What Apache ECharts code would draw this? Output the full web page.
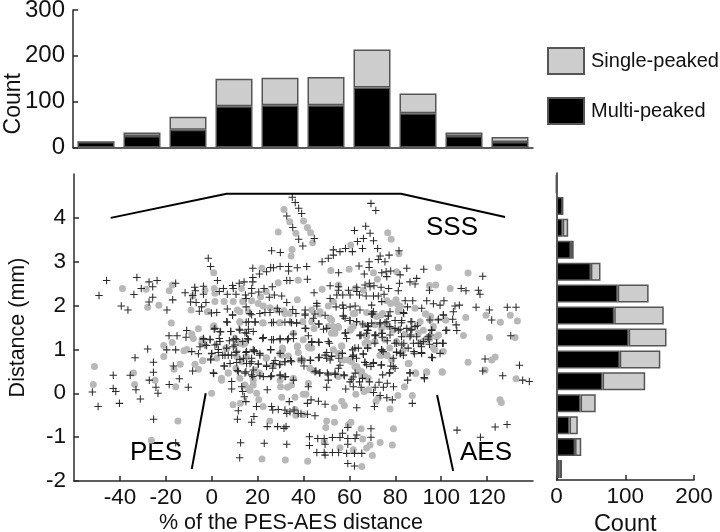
<!DOCTYPE html>
<html><head><meta charset="utf-8">
<style>html,body{margin:0;padding:0;background:#fff}#c{width:720px;height:532px}</style>
<script src="https://cdn.jsdelivr.net/npm/echarts@6/dist/echarts.min.js"></script>
</head><body><div id="c"></div>
<script>
const xBins=['-60','-40','-20','0','20','40','60','80','100','120'];
const xMulti=[12,25,39,90,92,92,131,75,25,12];
const xSingle=[0,8,28,60,60,62,83,43,8,11];
const yBins=['-2','-1.5','-1','-0.5','0','0.5','1','1.5','2','2.5','3','3.5','4','4.5'];
const yMulti=[4,27,19,35,67,92,105,84,89,50,21,9,9,0];
const ySingle=[4,9,12,22,62,59,55,72,45,14,4,8,0,0];
const xTicks=[-40,-20,0,20,40,60,80,100,120];
const yTicks=[-2,-1,0,1,2,3,4];
const countTicks=[0,100,200,300];
const sideTicks=[0,100,200];
const sssLine=[[-44,4],[6.5,4.55],[82.5,4.55],[127.8,4.02]];
const pesLine=[[-2.6,0],[-8.7,-1.73]];
const aesLine=[[98.2,-0.04],[105.2,-1.77]];
const multiPeaked=[[-45.8,2.57],[-49.1,2.23],[-32.6,2.64],[-27.3,2.54],[-23.8,2.57],[-25.7,2.43],[-30.7,2.39],[-33.9,2.25],[-25.7,2.19],[-27.3,2.08],[-39.4,1.99],[-36.5,1.9],[-19.5,1.9],[-17,2.13],[-15.7,2.51],[-1.5,3.08],[-0.5,2.89],[2.5,2.57],[-11.6,2.29],[-7.4,2.42],[-3.6,2.44],[-7.1,2.34],[-3.6,2.26],[-8.3,2.23],[-9.2,2.08],[-6.8,2.07],[-2.5,2.07],[-4.4,1.97],[-5.4,1.87],[-0.1,1.83],[3.3,2.32],[5.1,2.39],[6.8,2.26],[9.1,2.46],[9.4,2.39],[10.6,2.26],[12,2.51],[14.1,2.54],[14.7,2.24],[15,2.16],[17.9,2.85],[17.9,2.64],[17.9,2.54],[20.8,2.72],[23.9,2.77],[25.7,2.87],[26.9,2.86],[29.8,2.89],[33.5,2.89],[33.5,2.79],[37.3,2.86],[26.1,3.25],[29.9,3.21],[32.7,2.57],[34.1,2.57],[17.4,2.39],[17.4,2.28],[20.5,2.31],[22.8,2.39],[26.4,2.43],[25.1,2.19],[27.3,2.24],[30.5,2.22],[32.7,2.07],[6.8,1.92],[9.1,1.78],[15,1.97],[16.7,1.82],[21,1.82],[23.2,1.84],[25.4,1.84],[28.6,1.94],[29.5,1.86],[35.3,1.91],[36.7,1.82],[6.8,1.62],[15,1.62],[18.9,1.62],[26.9,1.62],[31.9,1.62],[34.8,1.61],[37,1.61],[-10.9,1.43],[1.1,1.46],[3.9,1.4],[8.3,1.41],[12.3,1.44],[16,1.46],[15.2,1.37],[35.6,1.35],[-18.6,1.31],[-15.1,1.31],[-11.2,1.28],[-3.6,1.25],[3.3,1.25],[10.2,1.25],[22.5,1.27],[29.8,1.25],[33.4,1.25],[35.1,4.47],[36.4,4.35],[37.9,4.22],[32.7,4.04],[35.3,3.78],[37.9,3.51],
[69.4,4.33],[71.5,4.17],[67.1,3.81],[62.2,3.71],[69,3.65],[66.1,3.53],[63.5,3.46],[70.5,3.48],[65.7,3.3],[61.3,3.23],[58.3,3.3],[55.9,3.23],[53,3.27],[53,3.15],[50.8,3.08],[48.1,3],[72.3,3.3],[73.4,3.13],[77.3,3.15],[81.6,3.25],[72.6,3.05],[75.5,3],[68.6,3],[68.6,2.87],[64.2,2.9],[85,2.85],[92.4,2.83],[55.3,2.75],[66.5,2.72],[74.1,2.75],[76,2.77],[78,2.79],[76.3,2.66],[82.1,2.7],[89.3,2.62],[86.4,2.54],[88.6,2.49],[81.8,2.51],[41.4,2.89],[39.2,4.1],[44.7,3.53],[39.7,3.36],[41.7,2.6],[118.1,2.67],[108.7,2.39],[110.8,2.34],[116.2,2.35],[116.9,2.26],[115.2,1.96],[121,1.9],[122,1.67],[128.8,1.96],[132.6,1.96],[130.3,1.31],[44.6,2.29],[51.6,2.45],[55.3,2.43],[55.2,2.35],[51.6,2.16],[59.6,2.35],[63.2,2.42],[63.2,2.32],[66.8,2.47],[68.7,2.51],[69,2.43],[70.7,2.45],[73.8,2.42],[77.1,2.39],[81.3,2.34],[94.9,2.35],[54.5,2.24],[57.1,2.24],[60.3,2.24],[64.4,2.24],[67.3,2.22],[70.5,2.22],[72.6,2.22],[75.1,2.26],[74.1,2.09],[84.3,2.11],[87.6,2.11],[93.7,2.11],[96.6,2.04],[99.5,2.01],[101.2,2.11],[106,1.99],[107.9,2.01],[105.3,1.86],[45.8,2.05],[45.8,1.99],[54.2,1.97],[57.1,2.01],[57.4,1.94],[60.3,1.97],[62.5,1.99],[64.6,1.9],[69.7,2.01],[70.5,1.86],[77.7,1.86],[83.5,1.84],[85.3,1.97],[91.5,1.94],[101,1.78],[40.7,1.9],[40.7,1.78],[45,1.81],[44.3,1.71],[49.4,1.78],[57.4,1.76],[58.1,1.71],[60.3,1.66],[63.2,1.63],[70,1.81],[77,1.76],[76.3,1.63],[73.4,1.61],[69.7,1.6],[65.8,1.58],[79.9,1.66],[82.8,1.66],[87.2,1.63],[95.1,1.67],[98.8,1.69],[105,1.69],[40.7,1.48],[46.5,1.58],[48.7,1.46],[58.1,1.37],[68.3,1.52],[68,1.43],[65.1,1.33],[67.5,1.37],[71.5,1.33],[74.1,1.37],[77.7,1.33],[79.9,1.48],[82.1,1.46],[85,1.48],[87.2,1.46],[88.6,1.52],[86.4,1.29],[89.3,1.29],[95.9,1.44],[94.4,1.29],[102.4,1.44],[106.8,1.43],[106.5,1.56],
[-27.9,1.01],[-19.6,0.99],[-15.7,0.99],[-33.4,0.81],[-25.4,0.71],[-16.7,0.62],[-25.4,0.48],[-8.3,0.51],[0.9,0.45],[-42.9,0.41],[-35.5,0.41],[-27.2,0.3],[-14.1,0.33],[-18.5,0.2],[-24.3,0.14],[-10.2,0.14],[-42.9,0.11],[-41.8,0.04],[-33,0.08],[-52,0.03],[-23.4,0],[-31.1,-0.13],[-40.2,-0.23],[-49.5,-0.3],[-25.3,-0.59],[-15.7,-1.13],[12.6,-1.13],[22.9,-1.14],[32.7,-1.16],[12.2,-1.47],[11.6,-0.4],[11.2,-0.59],[18.4,-0.53],[17.4,-0.66],[24.2,-0.76],[28.7,-0.76],[31.5,-0.8],[32.4,-0.76],[19.5,-0.3],[26.1,-0.3],[26.6,-0.38],[29,-0.37],[31.9,-0.38],[33.8,-0.19],[32.7,-0.46],[34.1,-0.42],[35.9,-0.38],[37.7,-0.46],[14.9,-0.19],[13.1,0.15],[13.5,0.04],[14.2,-0.08],[8.7,0.27],[8.7,0.1],[24.2,0.08],[-5.1,1.06],[-5.8,0.9],[-8.7,0.95],[-2.2,1.09],[-0.7,1.22],[0,0.9],[2.2,1.12],[2.9,0.93],[-0.4,0.76],[5.8,0.87],[8.7,0.87],[9.4,1.06],[10.9,0.96],[12.3,0.77],[5.5,0.62],[8,0.68],[11.6,0.49],[14.9,0.93],[15.2,0.68],[17.4,0.72],[14.9,0.49],[18.1,0.53],[20.3,0.67],[21,0.87],[18.1,0.99],[25.7,0.99],[23.9,0.64],[26.9,0.68],[29.8,0.66],[31.9,0.72],[34.8,0.72],[29.8,0.42],[31.9,0.38],[25.7,0.38],[22.5,0.38],[17.9,0.38],[35.6,0.3],[9.4,1.23],[16,1.22],[18.6,0.95],[26.9,1.22],[35.6,1.25],
[119.1,0.78],[134.1,0.64],[118.1,0.51],[126.8,0.4],[135.5,0.3],[138.4,0.27],[106.9,-0.84],[117.1,-1],[123.5,-0.77],[128.7,-0.71],[100.9,1.14],[99.5,0.91],[96.2,0.81],[92.7,0.33],[86.4,0.46],[85.4,0.3],[87.4,-0.23],[79.2,0.15],[78.7,-0.15],[76.3,-0.1],[73.4,-0.05],[70.9,-0.3],[63.2,-0.33],[49.4,-0.25],[46.5,-0.18],[43.3,-0.15],[41.7,-0.23],[45,-0.51],[41.7,-0.48],[38.9,-0.46],[69.4,-0.81],[69.4,-1],[59.3,-0.78],[57,-0.91],[55.9,-1.01],[52.6,-1.01],[49,-1.03],[46.2,-1.03],[42.6,-0.99],[42.6,-1.19],[49.4,-1.16],[59.3,-1.03],[59.3,-1.16],[62.5,-1.03],[63.2,-0.95],[45.8,-1.35],[49,-1.35],[49.4,-1.41],[52.6,-1.35],[55.3,-1.35],[58.8,-1.37],[62.2,-1.37],[65.4,-1.37],[59.3,-1.6],[62.2,-1.66],[43.6,1.18],[46.5,1.17],[51.3,1.14],[64.6,1.31],[71.2,1.31],[80.6,1.14],[82.8,1.1],[87.9,1.14],[90.8,1.14],[94.9,1.12],[98,1.14],[82.1,0.91],[80.6,0.93],[88.3,0.9],[91.5,0.91],[83.5,0.87],[49.4,0.87],[52.3,0.84],[56.9,0.91],[61.4,0.99],[63.9,1.03],[68,1.03],[74.1,0.99],[61.4,0.84],[66.1,0.89],[46.9,0.82],[42.9,0.76],[39.2,0.74],[40.2,0.62],[51.6,0.76],[55.9,0.64],[55.2,0.57],[66.8,0.7],[70.5,0.7],[69.4,0.61],[73.8,0.64],[78,0.62],[79.9,0.57],[45,0.49],[46.9,0.46],[50.4,0.46],[53.8,0.43],[57.8,0.4],[50.8,0.3],[62.5,0.46],[61,0.32],[60.3,0.26],[64.4,0.26],[68.7,0.26],[72.9,0.25],[74.5,0.42],[77.4,0.46],[76.5,0.23],[42.1,0.15],[50.1,0.14],[58.4,0.1],[61.7,0.15],[65.1,0.14],[71.2,0.14],[74.8,0.14],[70.5,0.02]];
const multiPeakedCentre=[[2.2,1.84],[9.1,1.79],[6.5,1.63],[17.4,1.79],[16,1.63],[18.9,1.63],[26.1,1.61],[34.1,1.63],[37,1.6],[41,1.48],[40.7,1.81],[46.8,1.58],[50.1,1.48],[3.6,1.41],[8.3,1.41],[12,1.46],[14.5,1.38],[18.1,1.41],[1.4,1.48],[15.7,1.25],[22.2,1.25],[26.1,1.22],[29.8,1.22],[33,1.22],[42.1,1.31],[43.6,1.16],[46.8,1.16],[50.8,1.18],[-3.6,1.23],[-0.7,1.23],[3.6,1.18],[7.7,1.2],[10.9,1.23],[13.5,1.18],[-2.9,1.1],[1.4,1.1],[6.5,1.03],[10.1,1.1],[25.7,1],[2.9,1],[0,0.91],[-0.5,0.78],[4.8,0.87],[7.2,0.87],[10.6,0.93],[15.2,0.95],[18.6,0.97],[21,0.91],[29.8,0.91],[50.1,0.93],[13.8,0.8],[17.4,0.8],[27.6,0.75],[31.9,0.72],[34.4,0.75],[39.2,0.78],[43.1,0.75],[46.5,0.81],[50.1,0.8],[5.4,0.62],[10.9,0.7],[16.7,0.68],[20.3,0.67],[23.9,0.61],[26.6,0.57],[29.5,0.65],[11.2,0.52],[14.5,0.46],[17.4,0.42],[0.7,0.47],[21,0.4],[26.1,0.4],[29.8,0.4],[32.2,0.38],[45.4,0.51],[47.2,0.47],[50.8,0.42],
[57.3,1.76],[60.2,1.66],[63.1,1.63],[69.7,1.81],[76.9,1.76],[83.7,1.82],[100.9,1.79],[98.7,1.67],[67.9,1.54],[67.9,1.44],[73.3,1.58],[75.5,1.61],[77.6,1.52],[82.7,1.61],[86.8,1.63],[89.6,1.54],[86.8,1.44],[81.3,1.44],[95.8,1.44],[102,1.43],[58.3,1.38],[58.8,1.25],[64.6,1.33],[71.1,1.33],[74.3,1.37],[74.3,1.28],[82.7,1.29],[86.8,1.33],[95.1,1.33],[94.3,1.23],[71.1,1.14],[76.5,1.2],[79.8,1.14],[83.7,1.14],[90,1.14],[92.2,1.18],[98,1.14],[100.6,1.14],[67.9,1.03],[85.6,1.03],[91.4,1.06],[62.4,1.03],[74,0.99],[80.5,0.94],[88.1,0.95],[91.4,0.93],[61.7,0.87],[56.9,0.91],[66,0.9],[74.7,0.95],[82.3,0.91],[52.2,0.85],[55.4,0.8],[63.1,0.8],[79.1,0.8],[95.8,0.82],[66.7,0.71],[70.4,0.68],[74,0.65],[67.5,0.65],[79.1,0.61],[77.6,0.47],[53.7,0.46],[57.6,0.42],[61.7,0.37],[65.7,0.34],[86.4,0.47],[92.6,0.36]];
const singlePeaked=[[-38.9,2.39],[-28.6,2.37],[-17.2,2.47],[-18.5,2.34],[-23,2.01],[-27.9,1.96],[0.9,2.75],[-2.9,2.35],[-8.3,2.22],[1.1,2.39],[1.4,2.28],[13,2.39],[21.9,2.85],[29,2.52],[37.7,2.58],[-9,1.9],[-1.5,1.86],[1.4,2.09],[5.4,2.09],[9.4,2.09],[13.5,2.09],[17.4,2.11],[20.3,2.05],[22.5,1.99],[25.4,1.95],[28.3,1.9],[31.5,1.88],[34.1,1.82],[37.3,2.13],[11.2,1.9],[16,1.86],[12.3,1.62],[22.5,1.6],[29.5,1.61],[-17.6,1.6],[-5.8,1.47],[0.7,1.52],[-8.7,1.35],[-8,1.25],[23.7,2.32],[21.3,2.2],[31.5,4.19],[34,3.91],[29,3.68],[36.7,3.65],[35,3.28],[34.6,3.13],
[40,3.93],[41.7,3.78],[43.1,3.66],[44,3.43],[60.6,3.38],[76.7,3.66],[78.2,3.51],[81.6,3.18],[51.9,2.8],[59.9,2.83],[70.5,2.75],[72.2,2.6],[80.6,2.77],[98.8,2.87],[111.7,2.74],[94.9,2.46],[97.6,2.47],[103.9,2.39],[48.1,2.37],[55.2,2.47],[62.5,2.39],[66.1,2.35],[119.5,1.78],[125.8,1.62],[130.1,1.78],[133.2,1.65],[121,1.27],[132.2,1.27],[109.7,1.32],[110.7,1.73],[102,1.67],[76.3,2.11],[78,2.05],[80.3,2.13],[82.1,1.99],[81.3,1.9],[88.6,1.94],[93.4,1.81],[95.4,1.75],[53,2.09],[50.8,1.99],[43.6,1.9],[47.2,1.86],[52.3,1.67],[50.8,1.52],[55.2,1.5],[44.6,1.48],[53.7,1.37],[61.7,1.82],[67.5,1.84],[71.9,1.75],[74.5,1.82],[61.7,1.52],[60.3,1.44],[90.8,1.63],[92.2,1.44],[90,1.37],[96.6,1.52],[98,1.29],[67.5,1.29],[80.6,2.05],[39.7,1.63],[71.2,1.56],[77,1.52],
[-51.1,0.61],[-51.6,0.2],[-34.1,0.46],[-33.6,0.2],[-24.7,0.3],[-15.7,0.15],[-13.7,0.66],[-16.4,0.55],[-20.9,1.09],[-20.9,0.84],[-17.2,1.16],[-12.1,0.97],[-10.9,1],[-7.3,0.66],[-5.8,0.55],[-3.9,0.74],[-4.1,1.23],[2.2,0.8],[4.3,0.3],[0,0],[9.3,-0.26],[12.5,-0.23],[-14.7,-0.63],[-26.3,-1.07],[21.9,-1.5],[32.1,-1.52],[25.3,-0.63],[22.4,-0.3],[20.5,-0.15],[7.2,0.46],[10.6,0.57],[12.3,0.34],[14.5,0.19],[16.7,0.07],[19.6,0],[18.1,0.3],[20.8,0.46],[15.2,0.83],[13.1,0.72],[10.9,0.84],[13.8,1.12],[6.5,1.03],[23.7,0.8],[29.8,0.91],[30.9,0.99],[33.4,0.85],[37.3,1.08],[30,0.15],[33,0.14],[34.8,0.19],[30.5,-0.09],[36.3,-0.09],[36.3,-0.37],[36.6,-0.5],[26.9,0.65],[29.8,0.3],[18.1,0.19],[16,0.11],
[122,0.76],[123.5,0.83],[111.7,0.71],[119.1,0.53],[132.6,0.33],[125.6,-0.15],[126.2,-0.21],[100.5,0.48],[93.7,0.48],[88.9,0.45],[86,0.68],[84,0.15],[87.4,-0.05],[81.1,-0.05],[77.7,-0.36],[79.2,-0.81],[78.7,-1.18],[73.4,-1.12],[69,-1.18],[67.5,-1.25],[70,-1.42],[65.4,-1.67],[41.8,-1.55],[65.1,-0.81],[65.8,-1.04],[60.7,-0.66],[59.6,-0.72],[53.5,-0.66],[50.1,-0.63],[49.7,-0.78],[55.9,-1.24],[61.7,-1.29],[49,-1.1],[53.5,-0.33],[56.7,-0.18],[57.8,-0.28],[39.9,-0.02],[41.1,-0.02],[42.1,0.23],[39.8,-0.49],[72.6,-0.11],[71.6,-0.18],[66.4,0.04],[68.3,0.08],[62.8,-0.02],[55.2,0.38],[44.3,0.52],[60.3,0.76],[63.2,0.61],[65.4,0.49],[66.8,0.38],[57.4,0.76],[53,0.99],[56.7,1.08],[43.6,1.03],[42.1,1.06],[39.7,0.76],[68.3,1.14],[74.1,0.87],[76.5,0.87],[83.5,0.99],[96.6,1.03],[93.7,1.25],[98.8,1.33],[92.2,1.18]];
const singlePeakedCentre=[[-1.9,1.86],[12.3,1.63],[22.2,1.61],[29.8,1.61],[1,1.54],[35.6,1.37],[12.3,1.14],[14.5,1.14],[37.3,1.06],[30.8,1.03],[6.2,1.03],[42.8,1.03],[-4.2,1.22],[37.7,0.93],[30.5,0.87],[-3.9,0.74],[23.9,0.81],[38.5,0.76],[12.3,1.86],[31.9,1.82],[39.9,1.22],[7.2,0.46],[4.3,0.34],[42.8,0.57],[18.9,0.53],[35.6,0.34],[43.6,1.63],[47.2,1.81],[-4.4,1.14],
[93.2,1.81],[95.1,1.67],[101.9,1.67],[55.1,1.52],[60.9,1.48],[66,1.56],[70.4,1.79],[74,1.79],[81.3,1.86],[62.4,1.82],[79.1,1.44],[74,1.48],[84.2,1.35],[75.5,1.22],[66.8,1.14],[71.1,1.18],[56.6,1.08],[52.2,1.37],[52.9,1.52],[51.5,1.71],[100.9,0.95],[97.2,0.99],[95.1,1.25],[85.6,0.68],[88.8,0.47],[93.6,0.49],[100.4,0.49],[76.2,0.87],[73.3,0.87],[59.5,0.76],[60.9,0.72],[62.4,0.61],[63.8,0.53],[65.3,0.42],[68.2,0.34],[80.5,1.18],[77.6,1.03],[78.4,0.76],[55.1,0.91],[53.7,1.41]];

const FONT='"Liberation Sans",Arial,sans-serif';
const AXC='#2a2a2a';
const axisLine={show:true,onZero:false,lineStyle:{color:AXC,width:1.5}};
const tick=(vals)=>({show:true,inside:true,length:5,customValues:vals,lineStyle:{color:AXC,width:1.5}});
const lab=(vals,m,size)=>({show:true,customValues:vals,margin:m,fontFamily:FONT,fontSize:size||22.5,color:'#111'});
const nameStyle=(size,pad)=>({fontFamily:FONT,fontSize:size,color:'#111',padding:pad||0});
const barStyle=(c)=>({color:c,borderColor:'#555',borderWidth:1.5});
const annot=(data)=>({type:'line',xAxisIndex:1,yAxisIndex:1,data,symbol:'none',silent:true,z:6,
  lineStyle:{color:'#000',width:2},animation:false});
const txt=(s,x,y)=>({type:'text',left:x,top:y,style:{text:s,font:'26px '+FONT.replace(/"/g,''),fill:'#000'}});

const option={
  animation:false,backgroundColor:'#fff',
  legend:{data:['Single-peaked','Multi-peaked'],orient:'vertical',left:547,top:47,padding:0,itemWidth:36,itemHeight:26,itemGap:22,
    selectedMode:false,icon:'rect',textStyle:{fontFamily:FONT,fontSize:20,color:'#111',padding:[0,0,0,2]}},
  grid:[
    {left:73,right:187,top:10,bottom:384.5,outerBoundsMode:'none'},
    {left:74,right:187,top:174,bottom:51,outerBoundsMode:'none'},
    {left:556.5,right:26,top:173,bottom:52,outerBoundsMode:'none'}],
  xAxis:[
    {type:'category',gridIndex:0,data:xBins,axisLine,axisTick:{show:false},axisLabel:{show:false}},
    {type:'value',gridIndex:1,min:-60,max:140,interval:20,splitLine:{show:false},axisLine,
      axisTick:tick(xTicks),axisLabel:lab(xTicks,5),name:'% of the PES-AES distance',nameLocation:'middle',nameGap:31,nameMoveOverlap:false,
      nameTextStyle:nameStyle(21.5,[0,25,0,0])},
    {type:'value',gridIndex:2,min:0,max:200,interval:100,splitLine:{show:false},axisLine,
      axisTick:tick(sideTicks),axisLabel:lab(sideTicks,5),name:'Count',nameLocation:'middle',nameGap:33,nameMoveOverlap:false,
      nameTextStyle:nameStyle(23.5)}],
  yAxis:[
    {type:'value',gridIndex:0,min:0,max:300,interval:100,splitLine:{show:false},axisLine,
      axisTick:tick(countTicks),axisLabel:lab(countTicks,8,24),name:'Count',nameLocation:'middle',nameGap:48,nameMoveOverlap:false,
      nameTextStyle:nameStyle(23,[0,50,0,0])},
    {type:'value',gridIndex:1,min:-2,max:5,interval:1,splitLine:{show:false},axisLine,
      axisTick:tick(yTicks),axisLabel:lab(yTicks,8),name:'Distance (mm)',nameLocation:'middle',nameGap:45,nameMoveOverlap:false,
      nameTextStyle:nameStyle(21.5)},
    {type:'category',gridIndex:2,data:yBins,axisLine,axisTick:{show:false},axisLabel:{show:false}}],
  series:[
    {name:'Multi-peaked',type:'bar',xAxisIndex:0,yAxisIndex:0,stack:'a',data:xMulti,barWidth:37,itemStyle:barStyle('#000')},
    {name:'Single-peaked',type:'bar',xAxisIndex:0,yAxisIndex:0,stack:'a',data:xSingle,barWidth:37,itemStyle:barStyle('#cdcdcd')},
    {name:'Multi-peaked',type:'bar',xAxisIndex:2,yAxisIndex:2,stack:'b',data:yMulti,barWidth:18,itemStyle:barStyle('#000')},
    {name:'Single-peaked',type:'bar',xAxisIndex:2,yAxisIndex:2,stack:'b',data:ySingle,barWidth:18,itemStyle:barStyle('#cdcdcd')},
    {name:'single',type:'scatter',xAxisIndex:1,yAxisIndex:1,data:singlePeaked.concat(singlePeakedCentre),symbol:'circle',symbolSize:7,
      itemStyle:{color:'#b8b8b8',opacity:1},z:3,silent:true},
    {name:'multi',type:'scatter',xAxisIndex:1,yAxisIndex:1,data:multiPeaked.concat(multiPeakedCentre),
      symbol:'path://M3.45,0h1.1v3.45h3.45v1.1h-3.45v3.45h-1.1v-3.45h-3.45v-1.1h3.45z',symbolSize:7.5,
      itemStyle:{color:'#2a2a2a',opacity:1},z:4,silent:true},
    annot(sssLine),annot(pesLine),annot(aesLine)],
  graphic:[txt('SSS',426,215),txt('PES',130,440),txt('AES',460,440)]
};
echarts.init(document.getElementById('c'),null,{renderer:'canvas'}).setOption(option);
</script></body></html>
